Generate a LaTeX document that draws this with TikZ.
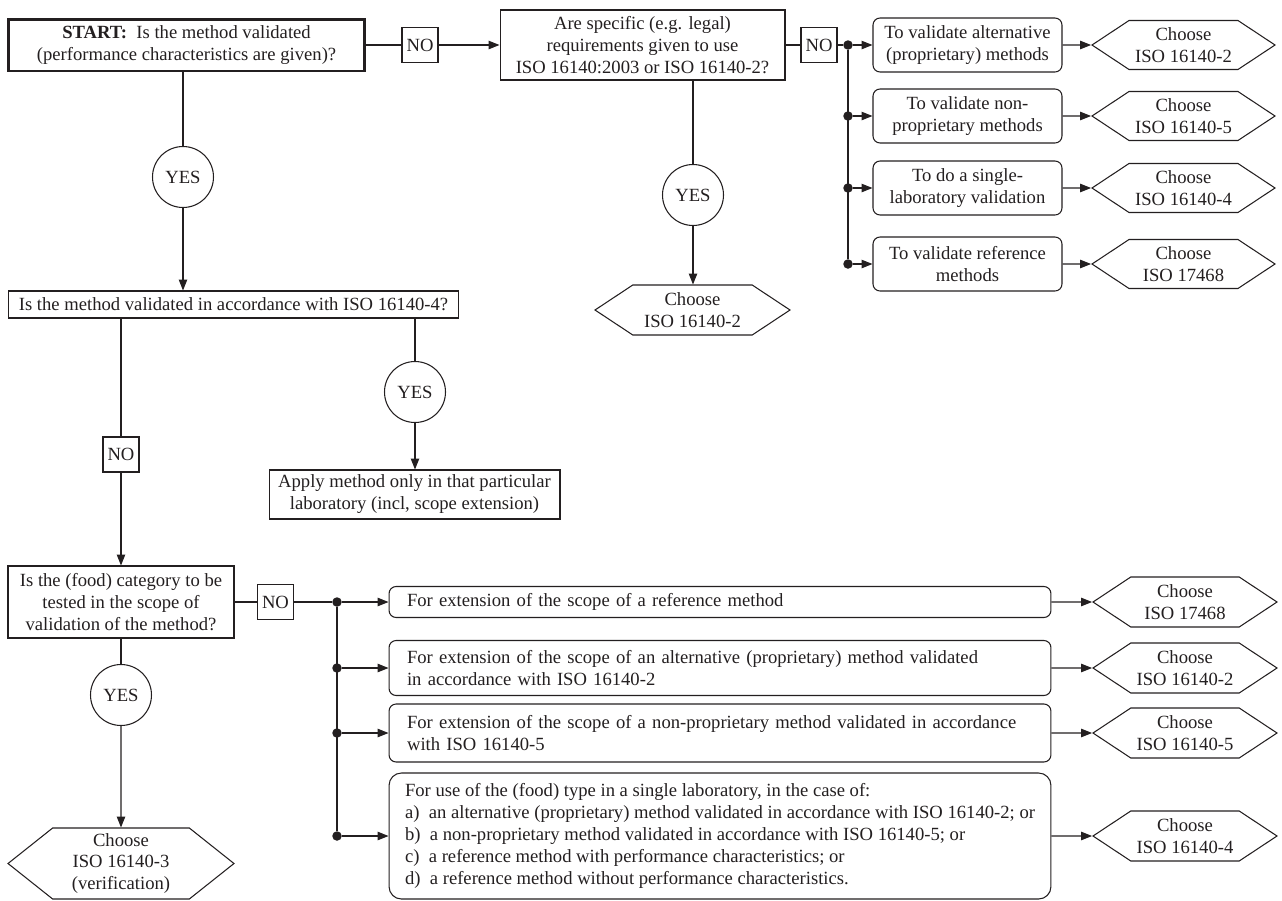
\documentclass[tikz,border=0pt]{standalone}
\usepackage{fontspec}
\setmainfont{Liberation Serif}
\usepackage{tikz}
\usetikzlibrary{arrows.meta}
\usetikzlibrary{positioning, shapes.symbols}
\definecolor{ink}{RGB}{35,31,32}

\begin{document}
\begin{tikzpicture}[x=0.02cm, y=-0.02cm, ink, line width=0.6pt,
		>={Triangle[length=6.2pt,width=4.8pt]},
		every node/.style={font=\fontsize{10.6}{12.5}\selectfont},
		box/.style={draw, rectangle, align=center, inner sep=1pt},
		startbox/.style={box, line width=1.7pt},
		rbox/.style={box, rounded corners=4pt},
		extbox/.style={rbox, align=left, inner xsep=0.36cm, text width=12.52cm, minimum width=13.24cm},
		nobox/.style={box, minimum width=0.72cm, minimum height=0.7cm},
		yes/.style={draw, circle, minimum size=1.22cm, inner sep=0pt},
		choice/.style={draw, signal, signal to=west and east, signal pointer angle=67, align=center, inner sep=1pt},
		dot/.style={circle, fill, inner sep=0pt, minimum size=0.19cm}]
			\useasboundingbox (0,0) rectangle (1282,900);
			
			\node[startbox, minimum width=7.14cm, minimum height=1.04cm] (start) at (186.5,45) {\textbf{START:}\ \ Is the method validated\\(performance characteristics are given)?};
			\node[nobox] (no1) at (420,45) {NO};
			\node[box, minimum width=5.7cm, minimum height=1.4cm] (q2) at (642.5,45) {Are specific (e.g. legal)\\requirements given to use\\ISO 16140:2003 or ISO 16140-2?};
			\node[nobox] (no2) at (819,45) {NO};
			
			\begin{scope}[every node/.style={dot}]
				\node (d1) at (848,45) {};
				\node (d2) at (848,116) {};
				\node (d3) at (848,188) {};
				\node (d4) at (848,264) {};
				\node (e1) at (337,602) {};
				\node (e2) at (337,668) {};
				\node (e3) at (337,733) {};
				\node (e4) at (337,836) {};
			\end{scope}
			
			\begin{scope}[every node/.append style={rbox, minimum width=3.78cm, minimum height=1.08cm}]
				\node (v1) at (967.5,45) {To validate alternative\\(proprietary) methods};
				\node (v2) at (967.5,116) {To validate non-\\proprietary methods};
				\node (v3) at (967.5,188) {To do a single-\\laboratory validation};
				\node (v4) at (967.5,264) {To validate reference\\methods};
			\end{scope}
			
			\begin{scope}[every node/.append style={choice, minimum width=3.66cm, minimum height=0.98cm}]
				\node (c1) at (1183.5,45) {Choose\\ISO 16140-2};
				\node (c2) at (1183.5,116) {Choose\\ISO 16140-5};
				\node (c3) at (1183.5,188) {Choose\\ISO 16140-4};
				\node (c4) at (1183.5,264) {Choose\\ISO 17468};
			\end{scope}
			
			\node[yes] (yes1) at (183,177) {YES};
			\node[yes] (yes2) at (693,195) {YES};
			\node[choice, minimum width=3.9cm, minimum height=1cm] (q2c) at (692.5,310) {Choose\\ISO 16140-2};
			
			\node[box, minimum width=9.02cm, minimum height=0.54cm] (q3) at (233.5,304.5) {Is the method validated in accordance with ISO 16140-4?};
			\node[nobox] (no3) at (121,454.5) {NO};
			\node[yes] (yes3) at (415,392) {YES};
			\node[box, minimum width=5.82cm, minimum height=0.98cm] (apply) at (414.5,494.5) {Apply method only in that particular\\laboratory (incl, scope extension)};
			
			\node[box, minimum width=4.52cm, minimum height=1.44cm] (q4) at (121,602) {Is the (food) category to be\\tested in the scope of\\validation of the method?};
			\node[nobox] (no4) at (275.5,602) {NO};
			\node[yes] (yes4) at (121,695) {YES};
			\node[choice, signal pointer angle=77, minimum width=4.52cm, minimum height=1.42cm] (q4c) at (121,863.5) {Choose\\ISO 16140-3\\(verification)};
			
			\node[extbox, minimum height=0.62cm] (x1) at (720,602) {For extension of the scope of a reference method};
			\node[extbox, minimum height=1.1cm] (x2) at (720,668) {For extension of the scope of an alternative (proprietary) method validated\\in accordance with ISO 16140-2};
			\node[extbox, minimum height=1.16cm] (x3) at (720,733) {For extension of the scope of a non-proprietary method validated in accordance\\with ISO 16140-5};
			\node[rbox, align=left, rounded corners=7pt, minimum width=13.24cm, minimum height=2.52cm] (x4) at (720,836) {For use of the (food) type in a single laboratory, in the case of:\\a)\ \ an alternative (proprietary) method validated in accordance with ISO 16140-2; or\\b)\ \ a non-proprietary method validated in accordance with ISO 16140-5; or\\c)\ \ a reference method with performance characteristics; or\\d)\ \ a reference method without performance characteristics.};
			
			\begin{scope}[every node/.append style={choice, minimum width=3.68cm, minimum height=1cm}]
				\node (k1) at (1185,602) {Choose\\ISO 17468};
				\node (k2) at (1185,668) {Choose\\ISO 16140-2};
				\node (k3) at (1185,733) {Choose\\ISO 16140-5};
				\node (k4) at (1185,836) {Choose\\ISO 16140-4};
			\end{scope}
			
			\draw (start) -- (no1)
			(q2) -- (no2) -- (d1) -- (d4)
			(yes1 |- start.south) -- (yes1)
			(yes2 |- q2.south) -- (yes2)
			(no3 |- q3.south) -- (no3)
			(yes3 |- q3.south) -- (yes3)
			(q4) -- (no4) -- (e1) -- (e4)
			(q4) -- (yes4);
			
			\draw[->] (no1) edge (q2)
			(d1) edge (v1) (d2) edge (v2) (d3) edge (v3) (d4) edge (v4)
			(v1) edge (c1) (v2) edge (c2) (v3) edge (c3) (v4) edge (c4)
			(yes1) edge (yes1 |- q3.north)
			(yes2) edge (yes2 |- q2c.north)
			(no3) edge (no3 |- q4.north)
			(yes3) edge (yes3 |- apply.north)
			(yes4) edge (q4c)
			(e1) edge (x1) (e2) edge (x2) (e3) edge (x3) (e4) edge (x4)
			(x1) edge (k1) (x2) edge (k2) (x3) edge (k3) (x4) edge (k4);
		\end{tikzpicture}
\end{document}
